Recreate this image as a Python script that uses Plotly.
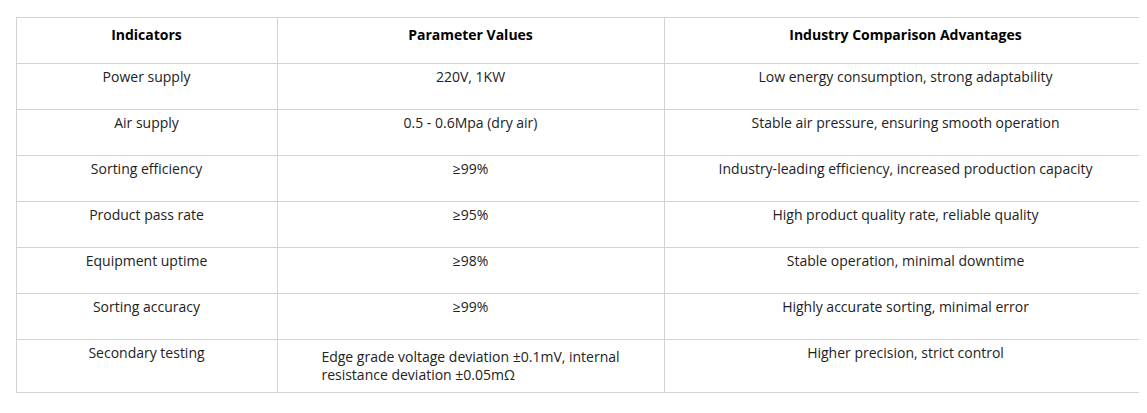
import plotly.graph_objects as go

headers = ["<b>Indicators</b>", "<b>Parameter Values</b>", "<b>Industry Comparison Advantages</b>"]
indicators = ["Power supply", "Air supply", "Sorting efficiency", "Product pass rate",
              "Equipment uptime", "Sorting accuracy", "Secondary testing"]
params = ["220V, 1KW", "0.5 - 0.6Mpa (dry air)", "≥99%", "≥95%", "≥98%", "≥99%",
          "Edge grade voltage deviation ±0.1mV, internal<br>resistance deviation ±0.05mΩ"]
advantages = ["Low energy consumption, strong adaptability",
              "Stable air pressure, ensuring smooth operation",
              "Industry-leading efficiency, increased production capacity",
              "High product quality rate, reliable quality",
              "Stable operation, minimal downtime",
              "Highly accurate sorting, minimal error",
              "Higher precision, strict control"]

border = "#d3d3d3"
fig = go.Figure(go.Table(
    columnwidth=[261, 387, 483],
    header=dict(values=headers, fill_color="white", line_color=border, height=46,
                align="center", font=dict(family="Open Sans", size=14, color="black")),
    cells=dict(values=[indicators, params, advantages], fill_color="white", line_color=border,
               height=46, align="center",
               font=dict(family="Open Sans", size=14, color="#222222")),
    domain=dict(x=[0, 1], y=[0, 1]),
))
fig.update_layout(width=1147, height=413, margin=dict(l=8, r=8, t=9, b=6),
                  paper_bgcolor="white")
fig.write_html("out.html")
